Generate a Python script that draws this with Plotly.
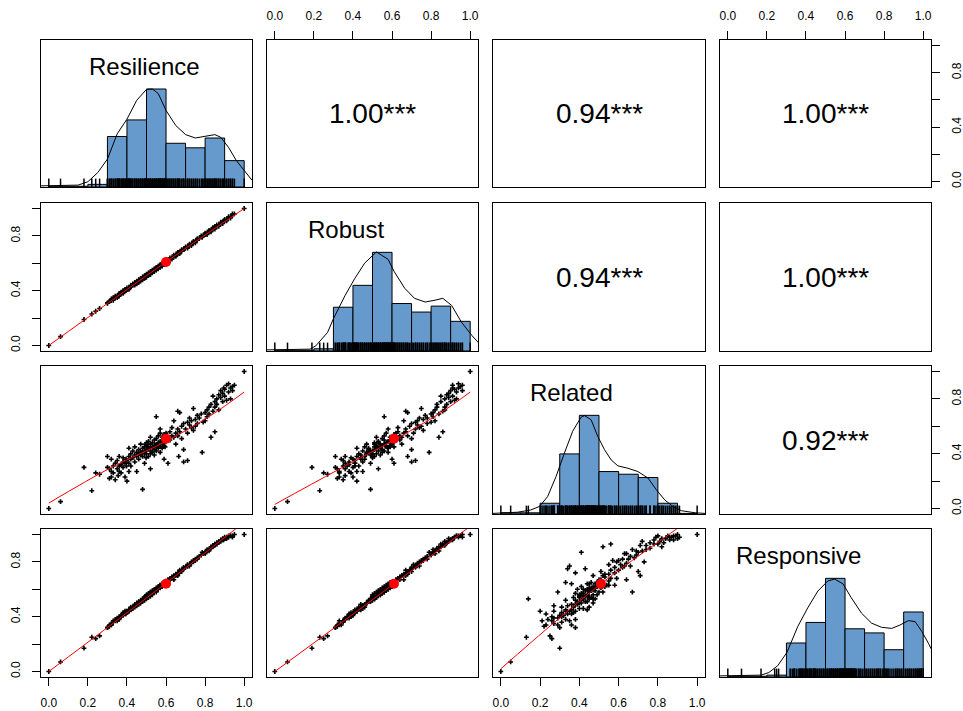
import numpy as np
import plotly.graph_objects as go

var_names = ["Resilience", "Robust", "Related", "Responsive"]

# ---- observations (read / estimated from the scatter panels) ----
resilience = [
    0.00, 0.06, 0.18, 0.22, 0.24, 0.26, 0.48, 1.00, 0.355, 0.41, 0.32, 0.30, 0.71, 0.665, 0.69,
    0.30, 0.31, 0.31, 0.32, 0.32, 0.33, 0.33, 0.34, 0.34, 0.35, 0.35, 0.36, 0.36, 0.36, 0.37, 0.37, 0.38, 0.38, 0.38, 0.39, 0.39, 0.395, 0.398,
    0.40, 0.40, 0.41, 0.41, 0.42, 0.42, 0.42, 0.43, 0.43, 0.44, 0.44, 0.44, 0.45, 0.45, 0.45, 0.46, 0.46, 0.46, 0.47, 0.47, 0.47, 0.48, 0.48, 0.48, 0.49, 0.49, 0.49, 0.495, 0.495, 0.498, 0.41,
    0.50, 0.50, 0.50, 0.51, 0.51, 0.51, 0.51, 0.52, 0.52, 0.52, 0.52, 0.53, 0.53, 0.53, 0.53, 0.54, 0.54, 0.54, 0.54, 0.55, 0.55, 0.55, 0.55, 0.56, 0.56, 0.56, 0.56, 0.57, 0.57, 0.57, 0.57, 0.58, 0.58, 0.58, 0.58, 0.59, 0.59, 0.59, 0.59, 0.595, 0.595, 0.50, 0.52, 0.55, 0.57,
    0.60, 0.60, 0.61, 0.61, 0.62, 0.62, 0.63, 0.63, 0.64, 0.64, 0.65, 0.65, 0.66, 0.66, 0.67, 0.67, 0.68, 0.68, 0.69, 0.69,
    0.66, 0.70, 0.71, 0.71, 0.72, 0.72, 0.73, 0.73, 0.74, 0.74, 0.75, 0.75, 0.76, 0.76, 0.77, 0.785, 0.78, 0.79,
    0.80, 0.80, 0.81, 0.81, 0.82, 0.82, 0.83, 0.83, 0.84, 0.84, 0.85, 0.85, 0.85, 0.86, 0.86, 0.87, 0.87, 0.88, 0.88, 0.89, 0.89, 0.895,
    0.90, 0.90, 0.91, 0.91, 0.92, 0.92, 0.93, 0.93, 0.94, 0.94, 0.95,
]
robust = [
    0.00, 0.065, 0.19, 0.23, 0.25, 0.27, 0.49, 1.00, 0.36, 0.42, 0.33, 0.31, 0.72, 0.68, 0.70,
    0.31, 0.32, 0.32, 0.33, 0.34, 0.33, 0.35, 0.35, 0.36, 0.36, 0.35, 0.37, 0.38, 0.36, 0.38, 0.39, 0.38, 0.40, 0.39, 0.40, 0.41, 0.40, 0.41,
    0.41, 0.42, 0.42, 0.41, 0.43, 0.44, 0.43, 0.44, 0.45, 0.45, 0.44, 0.46, 0.46, 0.47, 0.45, 0.47, 0.48, 0.46, 0.48, 0.49, 0.47, 0.49, 0.50, 0.48, 0.50, 0.51, 0.49, 0.50, 0.51, 0.50, 0.42,
    0.51, 0.52, 0.50, 0.52, 0.53, 0.51, 0.52, 0.53, 0.54, 0.52, 0.53, 0.54, 0.55, 0.53, 0.54, 0.55, 0.56, 0.54, 0.55, 0.56, 0.57, 0.55, 0.56, 0.57, 0.58, 0.56, 0.57, 0.58, 0.59, 0.57, 0.58, 0.59, 0.60, 0.58, 0.59, 0.60, 0.61, 0.59, 0.60, 0.60, 0.61, 0.51, 0.52, 0.56, 0.58,
    0.61, 0.62, 0.62, 0.61, 0.63, 0.64, 0.64, 0.63, 0.65, 0.66, 0.66, 0.65, 0.67, 0.68, 0.68, 0.67, 0.69, 0.70, 0.70, 0.70,
    0.67, 0.72, 0.72, 0.71, 0.73, 0.74, 0.74, 0.73, 0.75, 0.76, 0.76, 0.75, 0.77, 0.78, 0.78, 0.79, 0.80, 0.80,
    0.81, 0.82, 0.82, 0.81, 0.83, 0.84, 0.84, 0.83, 0.85, 0.86, 0.86, 0.85, 0.87, 0.87, 0.88, 0.88, 0.87, 0.89, 0.90, 0.90, 0.89, 0.91,
    0.91, 0.92, 0.92, 0.91, 0.93, 0.94, 0.94, 0.93, 0.95, 0.96, 0.96,
]
related = [
    0.00, 0.05, 0.30, 0.13, 0.26, 0.25, 0.14, 1.00, 0.24, 0.27, 0.23, 0.38, 0.35, 0.38, 0.43,
    0.30, 0.22, 0.29, 0.27, 0.36, 0.26, 0.31, 0.21, 0.33, 0.29, 0.35, 0.31, 0.27, 0.38, 0.32, 0.26, 0.34, 0.30, 0.37, 0.23, 0.33, 0.36, 0.31,
    0.35, 0.20, 0.38, 0.33, 0.40, 0.36, 0.31, 0.37, 0.42, 0.34, 0.39, 0.45, 0.38, 0.41, 0.27, 0.40, 0.43, 0.36, 0.41, 0.39, 0.47, 0.42, 0.38, 0.44, 0.40, 0.45, 0.33, 0.42, 0.47, 0.37, 0.44,
    0.43, 0.46, 0.40, 0.44, 0.49, 0.38, 0.45, 0.42, 0.47, 0.52, 0.29, 0.45, 0.41, 0.48, 0.44, 0.46, 0.50, 0.39, 0.43, 0.47, 0.45, 0.51, 0.42, 0.48, 0.44, 0.53, 0.46, 0.49, 0.45, 0.55, 0.41, 0.50, 0.47, 0.44, 0.52, 0.48, 0.54, 0.46, 0.36, 0.50, 0.45, 0.48, 0.40, 0.67, 0.58,
    0.49, 0.55, 0.51, 0.33, 0.56, 0.50, 0.53, 0.59, 0.52, 0.64, 0.55, 0.47, 0.58, 0.53, 0.70, 0.56, 0.60, 0.51, 0.34, 0.62,
    0.71, 0.58, 0.63, 0.55, 0.61, 0.66, 0.59, 0.64, 0.73, 0.57, 0.65, 0.60, 0.68, 0.62, 0.66, 0.41, 0.69, 0.63,
    0.70, 0.64, 0.72, 0.67, 0.74, 0.69, 0.52, 0.76, 0.82, 0.71, 0.56, 0.78, 0.74, 0.80, 0.76, 0.83, 0.72, 0.81, 0.86, 0.78, 0.84, 0.88,
    0.82, 0.87, 0.79, 0.90, 0.85, 0.91, 0.88, 0.80, 0.89, 0.86, 0.90,
]
responsive = [
    0.00, 0.07, 0.17, 0.25, 0.24, 0.26, 0.53, 1.00, 0.38, 0.44, 0.34, 0.32, 0.77, 0.72, 0.75,
    0.32, 0.33, 0.34, 0.35, 0.34, 0.37, 0.36, 0.37, 0.38, 0.39, 0.37, 0.40, 0.39, 0.38, 0.41, 0.40, 0.42, 0.41, 0.43, 0.42, 0.44, 0.42, 0.43,
    0.44, 0.44, 0.44, 0.45, 0.46, 0.45, 0.47, 0.47, 0.46, 0.48, 0.49, 0.47, 0.49, 0.50, 0.48, 0.50, 0.51, 0.49, 0.52, 0.51, 0.50, 0.53, 0.52, 0.51, 0.54, 0.53, 0.52, 0.55, 0.53, 0.54, 0.45,
    0.55, 0.54, 0.56, 0.55, 0.56, 0.57, 0.54, 0.57, 0.56, 0.58, 0.58, 0.58, 0.57, 0.59, 0.56, 0.59, 0.58, 0.60, 0.59, 0.60, 0.59, 0.61, 0.60, 0.61, 0.60, 0.62, 0.61, 0.62, 0.61, 0.63, 0.62, 0.63, 0.62, 0.64, 0.63, 0.64, 0.63, 0.65, 0.64, 0.65, 0.64, 0.53, 0.55, 0.58, 0.63,
    0.65, 0.66, 0.67, 0.65, 0.68, 0.67, 0.69, 0.68, 0.70, 0.67, 0.71, 0.70, 0.72, 0.71, 0.73, 0.74, 0.74, 0.73, 0.75, 0.76,
    0.70, 0.76, 0.77, 0.78, 0.78, 0.77, 0.80, 0.79, 0.80, 0.81, 0.82, 0.81, 0.83, 0.82, 0.84, 0.87, 0.85, 0.86,
    0.87, 0.86, 0.88, 0.89, 0.89, 0.88, 0.91, 0.90, 0.91, 0.92, 0.93, 0.93, 0.92, 0.93, 0.94, 0.94, 0.95, 0.95, 0.96, 0.96, 0.97, 0.96,
    0.97, 0.98, 0.98, 0.97, 0.99, 0.98, 0.99, 0.99, 0.99, 0.98, 1.00,
]

# ---- variable means (red dots) ----
means = [0.60, 0.61, 0.51, 0.64]

# ---- smoothed fit lines in the lower panels, keyed (row, col) ----
smooth_x = {
    (1, 0): [0.0, 0.60, 1.0],
    (2, 0): [0.0, 0.32, 0.60, 0.83, 1.0],
    (2, 1): [0.0, 0.32, 0.61, 0.85, 1.0],
    (3, 0): [0.0, 0.60, 1.0],
    (3, 1): [0.0, 0.61, 1.0],
    (3, 2): [0.0, 0.51, 0.90, 1.0],
}
smooth_y = {
    (1, 0): [0.0, 0.61, 1.0],
    (2, 0): [0.04, 0.30, 0.49, 0.68, 0.85],
    (2, 1): [0.03, 0.28, 0.50, 0.70, 0.85],
    (3, 0): [0.0, 0.645, 1.09],
    (3, 1): [0.0, 0.64, 1.06],
    (3, 2): [0.02, 0.64, 1.045, 1.15],
}

# ---- histogram densities (bins of width 0.1) ----
bin_lefts = [0.0, 0.1, 0.2, 0.3, 0.4, 0.5, 0.6, 0.7, 0.8, 0.9]
hist_resilience = [0.02, 0.02, 0.07, 1.34, 1.78, 2.60, 1.16, 1.04, 1.30, 0.70]
hist_robust = [0.02, 0.02, 0.06, 1.18, 1.77, 2.66, 1.28, 1.05, 1.21, 0.80]
hist_related = [0.04, 0.04, 0.36, 2.01, 3.30, 1.42, 1.33, 1.22, 0.36, 0.02]
hist_responsive = [0.02, 0.02, 0.05, 0.91, 1.46, 2.64, 1.29, 1.18, 0.73, 1.74]

# ---- kernel density curves ----
dens_resilience_x = [-0.04, 0.0, 0.1, 0.15, 0.2, 0.25, 0.3, 0.35, 0.4, 0.45, 0.5, 0.53, 0.56, 0.6, 0.65, 0.7, 0.75, 0.8, 0.85, 0.88, 0.92, 0.96, 1.0, 1.04]
dens_resilience_y = [0.03, 0.03, 0.035, 0.05, 0.14, 0.38, 0.74, 1.41, 1.80, 2.30, 2.59, 2.60, 2.48, 2.03, 1.63, 1.39, 1.30, 1.34, 1.39, 1.32, 1.05, 0.70, 0.43, 0.18]
dens_robust_x = [-0.04, 0.0, 0.1, 0.18, 0.21, 0.27, 0.30, 0.36, 0.41, 0.46, 0.52, 0.58, 0.61, 0.665, 0.715, 0.77, 0.82, 0.86, 0.905, 0.955, 1.01, 1.05]
dens_robust_y = [0.03, 0.03, 0.04, 0.05, 0.14, 0.50, 0.87, 1.50, 1.96, 2.37, 2.67, 2.47, 2.15, 1.69, 1.42, 1.32, 1.37, 1.42, 1.23, 0.78, 0.41, 0.18]
dens_related_x = [-0.04, 0.085, 0.15, 0.196, 0.238, 0.281, 0.324, 0.366, 0.409, 0.426, 0.46, 0.494, 0.528, 0.562, 0.596, 0.647, 0.698, 0.75, 0.792, 0.835, 0.877, 0.92, 0.99, 1.04]
dens_related_y = [0.02, 0.06, 0.13, 0.25, 0.58, 1.25, 2.04, 2.77, 3.24, 3.29, 3.15, 2.59, 2.15, 1.81, 1.61, 1.53, 1.42, 1.20, 0.81, 0.47, 0.25, 0.11, 0.04, 0.02]
dens_responsive_x = [-0.04, 0.005, 0.17, 0.21, 0.255, 0.303, 0.358, 0.409, 0.461, 0.512, 0.547, 0.59, 0.632, 0.684, 0.736, 0.787, 0.839, 0.881, 0.925, 0.959, 0.993, 1.028, 1.045]
dens_responsive_y = [0.03, 0.03, 0.05, 0.12, 0.30, 0.66, 1.35, 1.85, 2.30, 2.57, 2.62, 2.49, 2.12, 1.71, 1.44, 1.33, 1.30, 1.39, 1.51, 1.48, 1.22, 0.89, 0.71]

# ---- correlations shown in upper panels: (0,1),(0,2),(0,3),(1,2),(1,3),(2,3) ----
corr_values = [1.00, 0.94, 1.00, 0.94, 1.00, 0.92]
corr_signif = ["***", "***", "***", "***", "***", "***"]

tick_vals = [0.0, 0.2, 0.4, 0.6, 0.8, 1.0]
x_tick_text = ["0.0", "0.2", "0.4", "0.6", "0.8", "1.0"]
y_tick_text = ["0.0", "", "0.4", "", "0.8", ""]

# ------------------------------------------------------------------
data = [resilience, robust, related, responsive]
assert all(len(c) == len(resilience) for c in data)
hists = [hist_resilience, hist_robust, hist_related, hist_responsive]
dens = [(dens_resilience_x, dens_resilience_y), (dens_robust_x, dens_robust_y),
        (dens_related_x, dens_related_y), (dens_responsive_x, dens_responsive_y)]

W, H = 963, 711
col_px = [(41, 252), (267, 478), (493, 705), (720, 931)]
row_px = [(40, 187), (203, 351), (366, 514), (529, 677)]
label_xpos = [0.491, 0.374, 0.368, 0.374]
FONT = "Liberation Sans, Arial, sans-serif"
BAR_COLOR = "#6699CC"


def aname(n, letter):
    return f"{letter}axis" if n == 1 else f"{letter}axis{n}"


def aref(n, letter):
    return letter if n == 1 else f"{letter}{n}"


fig = go.Figure()
layout_axes = {}
annotations = []
corr_iter = iter(zip(corr_values, corr_signif))
corr_map = {}
for a in range(4):
    for b in range(a + 1, 4):
        corr_map[(a, b)] = next(corr_iter)

tick_base = dict(ticks="outside", ticklen=8, tickwidth=1, tickcolor="black",
                 showticklabels=True, tickvals=tick_vals,
                 tickfont=dict(family=FONT, size=12, color="black"))

for i in range(4):
    for j in range(4):
        n = i * 4 + j + 1
        xr, yr = aref(n, "x"), aref(n, "y")
        xa = dict(domain=[col_px[j][0] / W, col_px[j][1] / W], range=[-0.04, 1.04],
                  anchor=yr, showline=True, mirror=True, linecolor="black", linewidth=1,
                  showgrid=False, zeroline=False, showticklabels=False, ticks="",
                  fixedrange=True, automargin=False)
        ya = dict(domain=[1 - row_px[i][1] / H, 1 - row_px[i][0] / H], range=[-0.04, 1.04],
                  anchor=xr, showline=True, mirror=True, linecolor="black", linewidth=1,
                  showgrid=False, zeroline=False, showticklabels=False, ticks="",
                  fixedrange=True, automargin=False)
        # outer axes
        if i == 0 and j in (1, 3):
            xa.update(tick_base, side="top", ticktext=x_tick_text, ticklabelstandoff=6)
        if i == 3 and j in (0, 2):
            xa.update(tick_base, side="bottom", ticktext=x_tick_text, ticklabelstandoff=7)
        if j == 0 and i in (1, 3):
            ya.update(tick_base, side="left", ticktext=y_tick_text, tickangle=-90,
                      ticklabelstandoff=7)
        if j == 3 and i in (0, 2):
            ya.update(tick_base, side="right", ticktext=y_tick_text, tickangle=-90,
                      ticklabelstandoff=7)

        if i == j:
            h = hists[i]
            ya["range"] = [0, 1.5 * max(h)]
            fig.add_trace(go.Bar(x=[b + 0.05 for b in bin_lefts], y=h, width=0.1,
                                 marker=dict(color=BAR_COLOR, line=dict(color="black", width=1)),
                                 xaxis=xr, yaxis=yr, hoverinfo="skip"))
            fig.add_trace(go.Scatter(x=dens[i][0], y=dens[i][1], mode="lines",
                                     line=dict(color="black", width=1),
                                     xaxis=xr, yaxis=yr, hoverinfo="skip"))
            fig.add_trace(go.Scatter(x=data[i], y=[0] * len(data[i]), mode="markers",
                                     marker=dict(symbol="line-ns", size=12,
                                                 line=dict(width=1.5, color="black")),
                                     cliponaxis=True, xaxis=xr, yaxis=yr, hoverinfo="skip"))
            annotations.append(dict(text=var_names[i], xref=f"{xr} domain", yref=f"{yr} domain",
                                    x=label_xpos[i], y=0.82, showarrow=False,
                                    xanchor="center", yanchor="middle",
                                    font=dict(family=FONT, size=24, color="black")))
        elif i > j:
            fig.add_trace(go.Scatter(x=data[j], y=data[i], mode="markers",
                                     marker=dict(symbol="cross", size=4, color="black",
                                                 line=dict(width=0)),
                                     xaxis=xr, yaxis=yr, hoverinfo="skip"))
            fig.add_trace(go.Scatter(x=smooth_x[(i, j)], y=smooth_y[(i, j)], mode="lines",
                                     line=dict(color="red", width=1, shape="spline"),
                                     xaxis=xr, yaxis=yr, hoverinfo="skip"))
            fig.add_trace(go.Scatter(x=[means[j]], y=[means[i]], mode="markers",
                                     marker=dict(color="red", size=10),
                                     xaxis=xr, yaxis=yr, hoverinfo="skip"))
        else:
            # invisible anchor trace so the empty panel (frame + axes) is drawn
            fig.add_trace(go.Scatter(x=[0.5], y=[0.5], mode="markers",
                                     marker=dict(size=1, opacity=0),
                                     xaxis=xr, yaxis=yr, hoverinfo="skip"))
            v, s = corr_map[(i, j)]
            annotations.append(dict(text=f"{v:.2f}{s}", xref=f"{xr} domain", yref=f"{yr} domain",
                                    x=0.5, y=0.5, showarrow=False,
                                    xanchor="center", yanchor="middle",
                                    font=dict(family=FONT, size=28, color="black")))
        layout_axes[aname(n, "x")] = xa
        layout_axes[aname(n, "y")] = ya

fig.update_layout(**layout_axes)
fig.update_layout(width=W, height=H, autosize=False,
                  margin=dict(l=0, r=0, t=0, b=0),
                  paper_bgcolor="white", plot_bgcolor="white",
                  showlegend=False, annotations=annotations,
                  font=dict(family=FONT, color="black"))
fig.write_html("out.html", config={"displayModeBar": False},
               post_script="document.body.style.margin='0px';document.body.style.overflow='hidden';")
